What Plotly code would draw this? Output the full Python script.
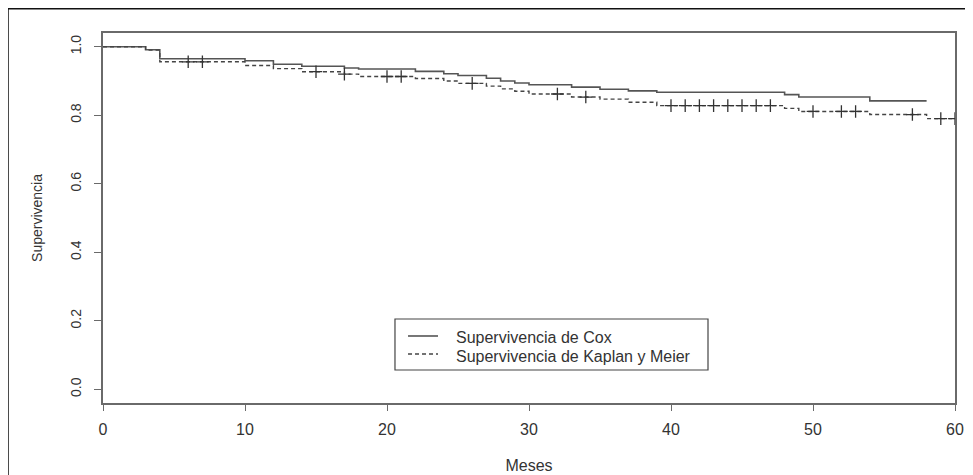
import numpy as np
import plotly.graph_objects as go

# Cox survival (step function): times of steps and values after each step
cox_t = [0, 3, 4, 10, 12, 14, 17, 18, 22, 24, 25, 27, 28, 29, 30, 33, 35, 37, 39, 48, 49, 54, 58]
cox_s = [1.0, 0.991, 0.965, 0.959, 0.949, 0.943, 0.938, 0.935, 0.928, 0.921, 0.916, 0.908, 0.900,
         0.894, 0.889, 0.882, 0.876, 0.871, 0.867, 0.860, 0.853, 0.842, 0.842]

# Kaplan-Meier survival (step function)
km_t = [0, 3, 4, 10, 12, 14, 17, 18, 22, 24, 25, 27, 28, 29, 30, 33, 35, 37, 39, 48, 49, 54, 58, 60]
km_s = [1.0, 0.990, 0.956, 0.945, 0.936, 0.927, 0.920, 0.913, 0.907, 0.900, 0.893, 0.885, 0.877,
        0.870, 0.862, 0.853, 0.847, 0.838, 0.828, 0.820, 0.811, 0.802, 0.790, 0.790]

# censoring times (+ marks on the KM curve)
cens_t = [6, 7, 15, 17, 20, 21, 26, 32, 34, 40, 41, 42, 43, 44, 45, 46, 47, 50, 52, 53, 57, 59, 60]

x_ticks = [0, 10, 20, 30, 40, 50, 60]
y_ticks = [0.0, 0.2, 0.4, 0.6, 0.8, 1.0]
y_labels = ["0.0", "0.2", "0.4", "0.6", "0.8", "1.0"]

cox_name = "Supervivencia de Cox"
km_name = "Supervivencia de Kaplan y Meier"

# KM value at each censoring time (right-continuous step lookup)
km_t_arr = np.array(km_t)
km_s_arr = np.array(km_s)
cens_s = [float(km_s_arr[np.searchsorted(km_t_arr, t, side="right") - 1]) for t in cens_t]

FONT = "Liberation Sans, Arial, sans-serif"
AX = "#6a6a6a"
TXT = "#333333"
COX_LINE = dict(color="#555555", width=1.6)
KM_LINE = dict(color="#444444", width=1.4, dash="4px,3px")

fig = go.Figure()
fig.add_trace(go.Scatter(x=cox_t, y=cox_s, mode="lines", line_shape="hv",
                         line=COX_LINE, name=cox_name, showlegend=False))
fig.add_trace(go.Scatter(x=km_t, y=km_s, mode="lines", line_shape="hv",
                         line=KM_LINE, name=km_name, showlegend=False))
fig.add_trace(go.Scatter(x=cens_t, y=cens_s, mode="markers", showlegend=False,
                         marker=dict(symbol="cross-thin", size=9,
                                     line=dict(color="#333333", width=1.3))))

# outer frame of the figure image
fig.add_shape(type="rect", xref="paper", yref="paper",
              x0=-0.1115, x1=1.05, y0=-0.3, y1=1.0655,
              line=dict(color="#111111", width=1.5), layer="above")

# legend box (R-style legend)
fig.add_shape(type="rect", xref="paper", yref="paper",
              x0=0.3427, x1=0.7101, y0=0.0892, y1=0.2270,
              line=dict(color="#444444", width=1.2), fillcolor="white", layer="above")
leg_rows = [(cox_name, COX_LINE, 0.1811, 0.1757), (km_name, KM_LINE, 0.1324, 0.1270)]
for name, ln, ly, ty in leg_rows:
    fig.add_shape(type="line", xref="paper", yref="paper",
                  x0=0.358, x1=0.3932, y0=ly, y1=ly, line=ln, layer="above")
    fig.add_annotation(text=name, xref="paper", yref="paper", x=0.4120, y=ty,
                       xanchor="left", yanchor="middle", showarrow=False,
                       font=dict(size=16, color=TXT, family=FONT))

fig.update_layout(
    width=965, height=467,
    margin=dict(l=95, r=18, t=25, b=72),
    paper_bgcolor="white", plot_bgcolor="white",
    font=dict(family=FONT, size=15, color=TXT),
    showlegend=False,
    xaxis=dict(range=[0, 60], tickvals=x_ticks, showgrid=False, zeroline=False,
               showline=True, linecolor=AX, linewidth=1.5, mirror=True,
               ticks="outside", ticklen=6, tickcolor=AX, tickwidth=1.2,
               ticklabelstandoff=5, automargin=False,
               tickfont=dict(size=16, color=TXT),
               title=dict(text="Meses", font=dict(size=16, color=TXT), standoff=23)),
    yaxis=dict(range=[-0.04, 1.04], tickvals=y_ticks, ticktext=y_labels, showgrid=False,
               zeroline=False, showline=True, linecolor=AX, linewidth=1.5, mirror=True,
               ticks="outside", ticklen=7, tickcolor=AX, tickwidth=1.2,
               tickangle=-90, ticklabelstandoff=8, automargin=False,
               tickfont=dict(size=14, color=TXT),
               title=dict(text="Supervivencia", font=dict(size=14, color=TXT), standoff=22)),
)

fig.write_html("out.html")
